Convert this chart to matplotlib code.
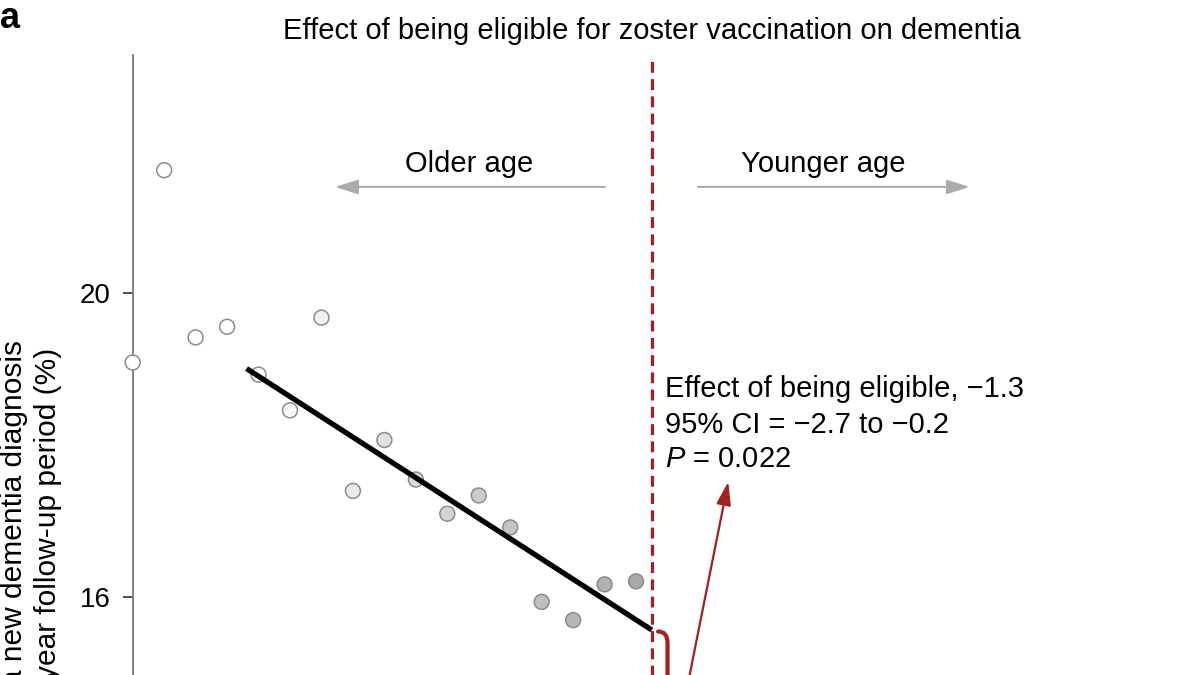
import numpy as np
import matplotlib
matplotlib.use("Agg")
import matplotlib.pyplot as plt
from matplotlib.path import Path
from matplotlib.patches import PathPatch

plt.rcParams["font.family"] = ["Liberation Sans", "DejaVu Sans"]
plt.rcParams["mathtext.fontset"] = "custom"
plt.rcParams["mathtext.it"] = "Liberation Sans:italic"
plt.rcParams["mathtext.rm"] = "Liberation Sans"

# birth-date bins relative to the eligibility cutoff (only the older side is visible)
bin_x = [-16.5, -15.5, -14.5, -13.5, -12.5, -11.5, -10.5, -9.5, -8.5,
         -7.5, -6.5, -5.5, -4.5, -3.5, -2.5, -1.5, -0.5]
dementia_pct = [19.09, 21.62, 19.42, 19.56, 18.93, 18.46, 19.68, 17.40, 18.07,
                17.55, 17.10, 17.34, 16.92, 15.94, 15.70, 16.17, 16.21]

# regression line left of the cutoff, and where the right-hand line starts
fit_x = [-12.88, 0.0]
fit_y = [19.01, 15.57]
right_fit_y0 = 13.75

effect = -1.3
ci_text = "95% CI = \u22122.7 to \u22120.2"
p_text = "$P$ = 0.022"

yticks = [16, 20]

RED = "#a3201e"
GREY_ARROW = "#ababab"

fig = plt.figure(figsize=(11.94, 6.75), dpi=100)
ax = fig.add_axes([0.11114, -0.33526, 0.88886, 1.25378])
ax.set_xlim(-16.5, 17.235)
ax.set_ylim(12, 23.136)

for side in ["top", "right", "bottom"]:
    ax.spines[side].set_visible(False)
ax.spines["left"].set_color("#7a7a7a")
ax.spines["left"].set_linewidth(1.3)
ax.set_xticks([])
ax.set_yticks(yticks)
ax.set_yticklabels([str(t) for t in yticks])
ax.tick_params(axis="y", length=7, width=1.2, color="#333333", pad=9,
               labelsize=20)

# fill gets darker toward the cutoff
n = len(bin_x)
shade = np.clip((np.arange(n) - 4) / 12.0, 0, 1) * 0.34
fills = [(1 - s, 1 - s, 1 - s) for s in shade]
ax.scatter(bin_x, dementia_pct, s=115, c=fills, edgecolors="#8c8c8c",
           linewidths=1.1, zorder=3, clip_on=False)

ax.plot(fit_x, fit_y, color="black", lw=3.8, solid_capstyle="butt", zorder=4)

ax.axvline(0, color=RED, lw=2.3, dashes=(3.4, 2.0), zorder=2)

# curly bracket showing the jump at the cutoff
y0 = fit_y[-1]
y1 = right_fit_y0
ym = (y0 + y1) / 2
bx0, bx1, bx2 = 0.2, 0.5, 0.85
verts = [(bx0, y0 - 0.02), (bx1, y0 - 0.02), (bx1, y0 - 0.17),
         (bx1, ym + 0.15),
         (bx1, ym), (bx2, ym),
         (bx1, ym), (bx1, ym - 0.15),
         (bx1, y1 + 0.17),
         (bx1, y1 + 0.02), (bx0, y1 + 0.02)]
codes = [Path.MOVETO, Path.CURVE3, Path.CURVE3, Path.LINETO,
         Path.CURVE3, Path.CURVE3, Path.CURVE3, Path.CURVE3,
         Path.LINETO, Path.CURVE3, Path.CURVE3]
ax.add_patch(PathPatch(Path(verts, codes), fill=False, edgecolor=RED,
                       lw=3, capstyle="round", zorder=4))

ax.annotate("", xy=(2.43, 17.52), xytext=(1.05, ym),
            arrowprops=dict(arrowstyle="-|>,head_length=0.7,head_width=0.22",
                            color=RED, lw=1.6, shrinkA=0, shrinkB=0,
                            mutation_scale=20))

ax.text(0.42, 18.64, f"Effect of being eligible, \u2212{abs(effect):.1f}",
        fontsize=21, ha="left", va="baseline")
ax.text(0.42, 18.166, ci_text, fontsize=21, ha="left", va="baseline")
ax.text(0.42, 17.718, p_text, fontsize=21, ha="left", va="baseline")

# direction of age
ax.text(-5.81, 21.596, "Older age", fontsize=21, ha="center", va="baseline")
ax.text(5.44, 21.596, "Younger age", fontsize=21, ha="center", va="baseline")
arrow_kw = dict(arrowstyle="-|>,head_length=0.7,head_width=0.22",
                color=GREY_ARROW, lw=1.5, shrinkA=0, shrinkB=0,
                mutation_scale=20)
ax.annotate("", xy=(-10.07, 21.40), xytext=(-1.49, 21.40), arrowprops=arrow_kw)
ax.annotate("", xy=(10.11, 21.40), xytext=(1.47, 21.40), arrowprops=arrow_kw)

ax.text(0, 23.342, "Effect of being eligible for zoster vaccination on dementia",
        fontsize=21, ha="center", va="baseline", clip_on=False)

# y label, two lines placed separately so their ends line up with the original
fig.text(14 / 1194, 1 - 340 / 675,
         "Probability of receiving a new dementia diagnosis",
         rotation=90, fontsize=21.5, ha="center", va="top")
fig.text(48 / 1194, 1 - 348 / 675,
         "over the 7-year follow-up period (%)",
         rotation=90, fontsize=21.5, ha="center", va="top")

fig.text(0.0, 1 - 18 / 675, "a", fontsize=26, fontweight="bold",
         ha="left", va="center")

fig.savefig("out.png", dpi=100)
